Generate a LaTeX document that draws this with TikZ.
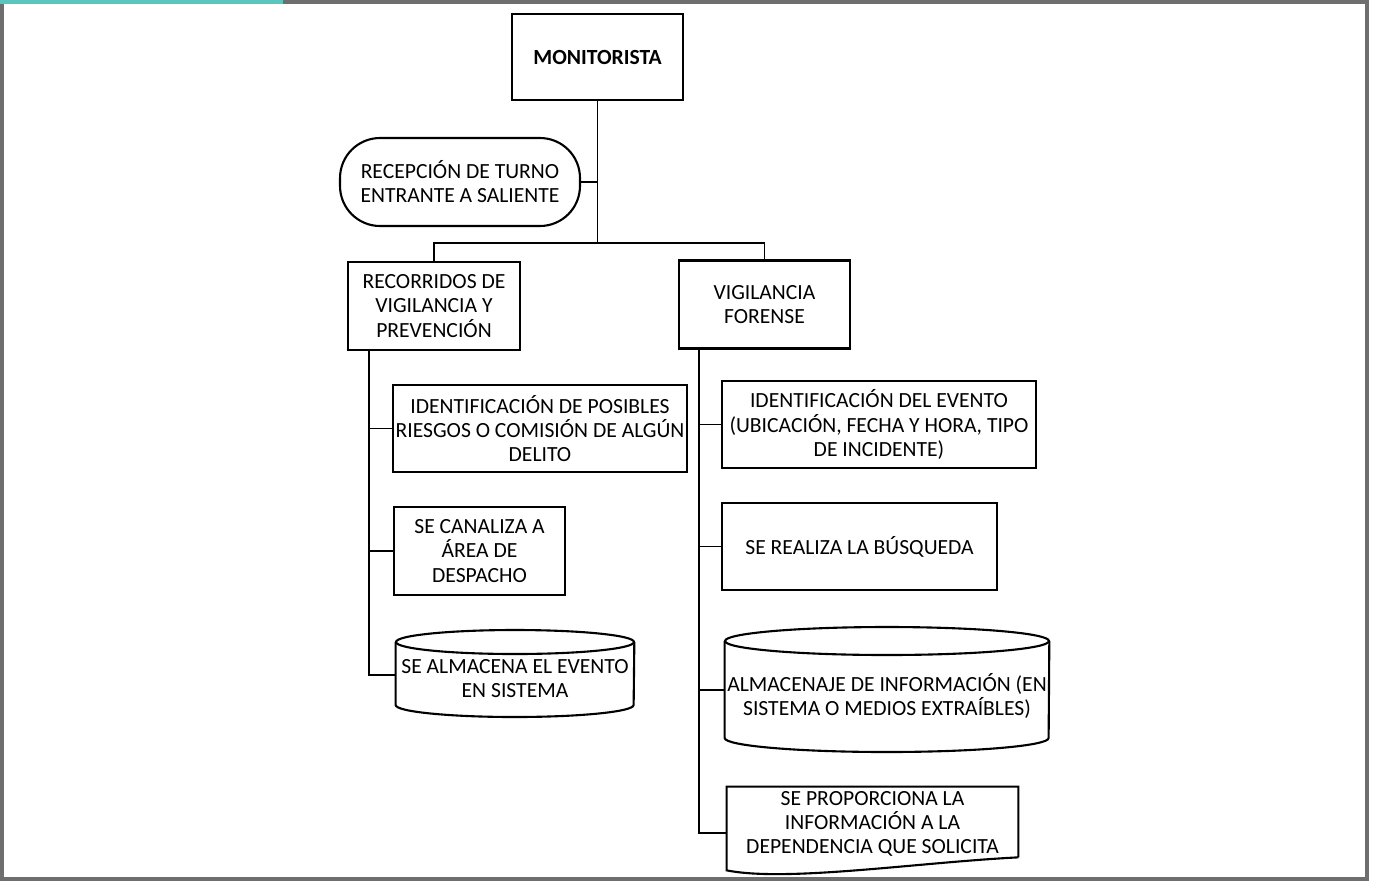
\documentclass[tikz,border=0pt]{standalone}
\usepackage{fontspec}
\setmainfont{Carlito}
\usetikzlibrary{positioning, calc}

\definecolor{framegray}{HTML}{6E6E6E}
\definecolor{tealbar}{HTML}{5CC6BE}

\tikzset{
  box/.style={draw, line width=1.2pt, align=center, inner sep=0pt},
  plain/.style={align=center, inner sep=0pt},
  outline/.style={line width=1.2pt},
  tree/.style={line width=0.8pt},
}

\begin{document}
\begin{tikzpicture}[x=0.02cm, y=0.02cm, font=\fontsize{12.3}{13.7}\selectfont]
  \useasboundingbox (0,0) rectangle (1375,-883);
  % marco de la hoja
  \draw[framegray, line width=2pt] (2,-2) rectangle (1367,-879);
  \fill[tealbar] (0,0) rectangle (283,-4);

  % nivel superior
  \node[box, minimum width=3.42cm, minimum height=1.72cm, font=\fontsize{12.3}{13.7}\selectfont\bfseries] (moni) at (597.5,-57) {MONITORISTA};
  \node[box, rounded corners=0.8cm, minimum width=4.8cm, minimum height=1.76cm] (recep) at (460,-182) {RECEPCIÓN DE TURNO\\ENTRANTE A SALIENTE};
  \node[box, minimum width=3.44cm, minimum height=1.76cm] (recor) at (434,-306) {RECORRIDOS DE\\VIGILANCIA Y\\PREVENCIÓN};
  \node[box, minimum width=3.42cm, minimum height=1.76cm] (vigil) at (764.5,-304.5) {VIGILANCIA\\FORENSE};

  % rama izquierda
  \node[box, minimum width=5.88cm, minimum height=1.74cm] (idposib) at (540,-428.5) {IDENTIFICACIÓN DE POSIBLES\\RIESGOS O COMISIÓN DE ALGÚN\\DELITO};
  \node[box, minimum width=3.42cm, minimum height=1.76cm] (canal) at (479.5,-551) {SE CANALIZA A\\ÁREA DE\\DESPACHO};
  \node[plain, minimum width=4.76cm] (almev) at (515,-679) {SE ALMACENA EL EVENTO\\EN SISTEMA};

  % rama derecha
  \node[box, minimum width=6.28cm, minimum height=1.74cm] (idevento) at (879,-424.5) {IDENTIFICACIÓN DEL EVENTO\\(UBICACIÓN, FECHA Y HORA, TIPO\\DE INCIDENTE)};
  \node[box, minimum width=5.5cm, minimum height=1.74cm] (busq) at (859.5,-546.5) {SE REALIZA LA BÚSQUEDA};
  \node[plain, minimum width=6.48cm] (alminfo) at (887,-696) {ALMACENAJE DE INFORMACIÓN (EN\\SISTEMA O MEDIOS EXTRAÍBLES)};
  \node[plain, minimum width=5.82cm, minimum height=1.48cm] (doc) at (872.5,-824) {SE PROPORCIONA LA\\INFORMACIÓN A LA\\DEPENDENCIA QUE SOLICITA};

  % cilindros
  \draw[outline] ($(almev.west)+(0,37)$) -- ($(almev.west)+(0,-26)$)
    arc[start angle=180, end angle=360, x radius=2.38cm, y radius=0.24cm] -- ($(almev.east)+(0,37)$);
  \draw[outline] ($(almev.center)+(0,37)$) ellipse [x radius=2.38cm, y radius=0.24cm];
  \draw[outline] ($(alminfo.west)+(0,55)$) -- ($(alminfo.west)+(0,-42)$)
    arc[start angle=180, end angle=360, x radius=3.24cm, y radius=0.28cm] -- ($(alminfo.east)+(0,55)$);
  \draw[outline] ($(alminfo.center)+(0,55)$) ellipse [x radius=3.24cm, y radius=0.28cm];

  % documento
  \draw[outline] ($(doc.south east)+(0,4)$) -- (doc.north east) -- (doc.north west) -- ($(doc.south west)+(0,-9)$)
    .. controls +(60,-12) and +(-100,-5) .. ($(doc.south east)+(0,4)$);

  % conectores
  \coordinate (split) at (597.5,-243);
  \draw[tree] (moni.south) -- (split);
  \draw[tree] (recep.east) -- (recep.east -| split);
  \draw[tree] (recor.north) |- (split) -| (vigil.north);

  \coordinate (lspine) at ($(recor.south west)+(22,0)$);
  \draw[tree] (lspine) |- ($(almev.west)+(0,4)$);
  \draw[tree] (lspine |- idposib.west) -- (idposib.west);
  \draw[tree] (lspine |- canal.west) -- (canal.west);

  \coordinate (rspine) at ($(vigil.south west)+(21,0)$);
  \draw[tree] (rspine) |- ($(doc.west)+(0,-9)$);
  \draw[tree] (rspine |- idevento.west) -- (idevento.west);
  \draw[tree] (rspine |- busq.west) -- (busq.west);
  \draw[tree] (rspine |- alminfo.west) ++(0,6) -- ($(alminfo.west)+(0,6)$);
\end{tikzpicture}
\end{document}
